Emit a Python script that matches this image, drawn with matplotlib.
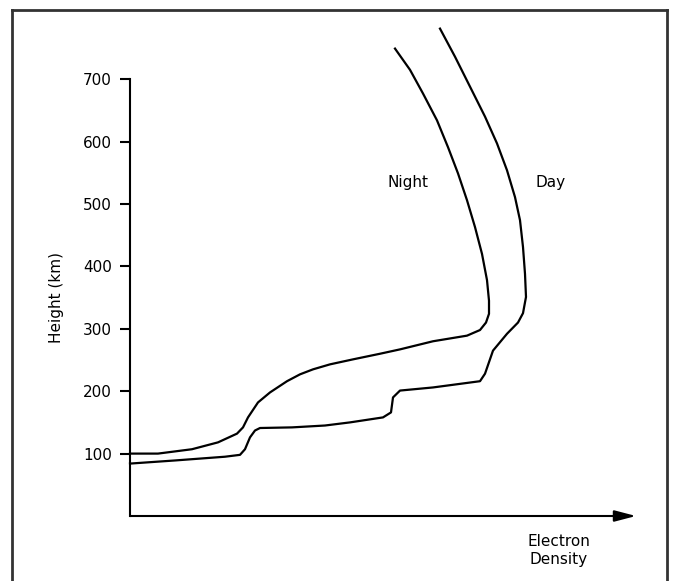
import matplotlib
matplotlib.use("Agg")
import matplotlib.pyplot as plt
from matplotlib.lines import Line2D

# electron density (arbitrary units) vs height (km)
night_x = [0, 28, 62, 88, 107, 113, 118, 128, 140, 157, 170, 183, 200, 223,
           250, 270, 303, 337, 350, 356, 359, 359, 357, 352, 345, 337, 328,
           318, 307, 293, 280, 265]
night_h = [100, 100, 107, 118, 132, 142, 158, 182, 198, 216, 227, 235, 243,
           251, 260, 267, 280, 289, 298, 310, 324, 345, 378, 420, 463, 506,
           549, 591, 634, 677, 715, 749]

day_x = [0, 45, 95, 110, 115, 120, 125, 130, 162, 195, 220, 253, 261, 263,
         270, 303, 350, 355, 363, 377, 388, 393, 396, 395, 393, 390, 385,
         377, 367, 355, 340, 325, 310]
day_h = [84, 89, 95, 98, 107, 126, 137, 141, 142, 145, 150, 158, 166, 190,
         201, 206, 216, 228, 265, 292, 310, 325, 351, 388, 431, 474, 511,
         554, 597, 640, 688, 736, 781]

yticks = [100, 200, 300, 400, 500, 600, 700]

fig = plt.figure(figsize=(6.73, 5.81), dpi=100)
ax = fig.add_axes([130 / 673, 1 - 516 / 581, 506 / 673, (516 - 23) / 581])

ax.plot(night_x, night_h, color="black", lw=1.6, clip_on=False,
        solid_joinstyle="round")
ax.plot(day_x, day_h, color="black", lw=1.6, clip_on=False,
        solid_joinstyle="round")

ax.set_xlim(0, 506)
ax.set_ylim(0, 790)
ax.set_yticks(yticks)
ax.set_xticks([])
ax.tick_params(axis="y", direction="out", length=7.5, width=1.5, pad=5.5,
               labelsize=11)

for s in ["top", "right", "bottom"]:
    ax.spines[s].set_visible(False)
ax.spines["left"].set_linewidth(1.5)
ax.spines["left"].set_bounds(0, 700)

# x axis drawn as an arrow
ax.annotate("", xy=(1.0, 0), xytext=(0, 0), xycoords="axes fraction",
            textcoords="axes fraction",
            arrowprops=dict(arrowstyle="-|>,head_length=0.65,head_width=0.17",
                            lw=1.5, color="black", mutation_scale=20,
                            shrinkA=0, shrinkB=0))

ax.set_ylabel("Height (km)", fontsize=11)
ax.yaxis.set_label_coords(-66 / 506, 350 / 790)

ax.text(278, 534, "Night", ha="center", va="center", fontsize=11)
ax.text(421, 534, "Day", ha="center", va="center", fontsize=11)
ax.text(429, -55, "Electron\nDensity", ha="center", va="center", fontsize=11,
        linespacing=1.3)

# frame around the figure (no bottom edge)
fc = "#333333"
x0, x1, yt = 12 / 673, 667 / 673, 1 - 10 / 581
for xs, ys in [([x0, x0], [0, yt]), ([x0, x1], [yt, yt]), ([x1, x1], [yt, 0])]:
    fig.add_artist(Line2D(xs, ys, color=fc, lw=2, transform=fig.transFigure))

fig.savefig("out.png", dpi=100)
